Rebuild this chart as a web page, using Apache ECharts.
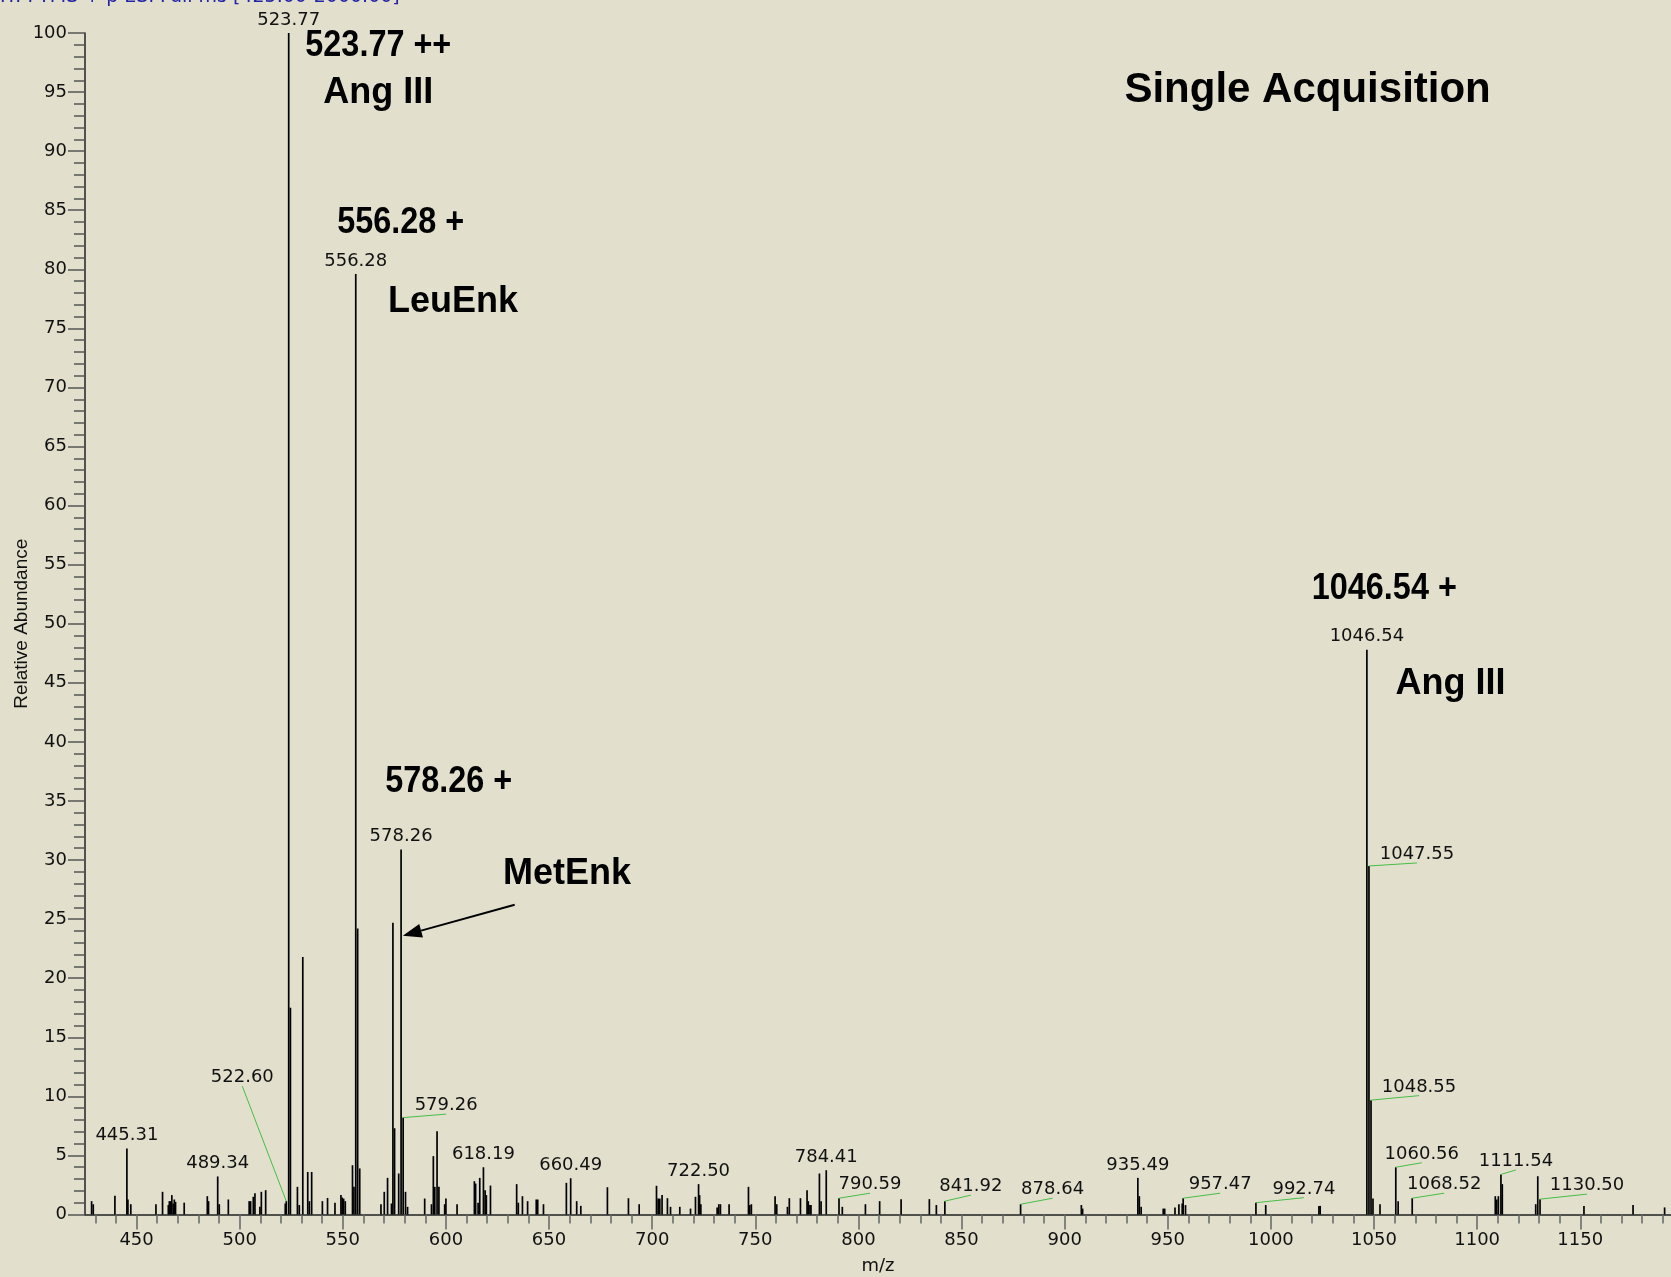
<!DOCTYPE html>
<html>
<head>
<meta charset="utf-8">
<title>Single Acquisition</title>
<script src="https://cdn.jsdelivr.net/npm/echarts@6/dist/echarts.min.js"></script>
<style>
  html, body { margin: 0; padding: 0; background: #e2e0cd; }
  #chart { width: 1671px; height: 1277px; }
</style>
</head>
<body>
<div id="chart"></div>
<script>
// centroid sticks: m/z and relative abundance (%)
const peakMz = [
  428.2, 429.0, 439.5, 445.31, 445.8, 447.2, 459.4, 462.6, 465.4, 465.9,
  466.5, 467.1, 467.8, 468.3, 468.9, 473.1, 484.3, 484.9, 489.34, 490.1,
  494.5, 504.6, 505.3, 506.6, 507.4, 509.8, 510.5, 512.6, 522.1, 522.60,
  523.77, 524.6, 528.0, 528.9, 530.6, 533.0, 533.8, 534.9, 540.1, 542.6,
  546.2, 549.1, 549.7, 550.4, 551.2, 554.7, 555.4, 556.28, 557.2, 558.2,
  568.5, 570.1, 571.7, 573.6, 574.3, 575.1, 577.1, 578.26, 579.26, 580.4,
  581.4, 589.7, 593.0, 593.9, 594.6, 595.7, 596.6, 599.4, 600.0, 605.4,
  613.8, 614.4, 615.6, 616.4, 618.19, 619.0, 619.6, 621.6, 634.3, 635.1,
  637.1, 639.6, 643.8, 644.5, 647.3, 658.4, 660.49, 663.4, 665.4, 678.3,
  688.5, 693.7, 702.1, 702.9, 703.7, 704.8, 707.4, 708.9, 713.4, 718.6,
  721.0, 722.50, 723.0, 723.6, 731.5, 732.3, 733.1, 737.3, 746.7, 747.3,
  748.1, 759.6, 760.4, 765.6, 766.5, 771.9, 775.1, 775.7, 776.5, 777.0,
  781.1, 781.9, 784.41, 790.59, 792.2, 803.4, 810.3, 820.7, 834.4, 837.8,
  841.92, 878.64, 908.1, 908.7, 935.49, 936.2, 937.1, 947.8, 948.5, 953.5,
  955.4, 957.0, 957.47, 958.6, 992.74, 997.5, 1023.3, 1023.9, 1046.54, 1047.55,
  1048.55, 1049.5, 1052.9, 1060.56, 1061.7, 1068.52, 1108.8, 1109.5, 1110.3, 1111.54,
  1112.2, 1128.4, 1129.4, 1130.50, 1151.8, 1175.6, 1190.9
];
const peakAbundance = [
  1.13, 0.87, 1.58, 5.59, 1.27, 0.87, 0.87, 1.92, 0.8, 1.13,
  1.13, 1.64, 0.93, 1.27, 1.07, 1.0, 1.55, 1.13, 3.22, 0.87,
  1.27, 1.13, 1.13, 1.5, 1.8, 0.65, 1.92, 2.06, 0.93, 1.13,
  100, 17.5, 2.34, 0.8, 21.8, 3.6, 1.13, 3.6, 1.13, 1.4,
  1.0, 1.64, 1.44, 1.35, 1.13, 4.17, 2.34, 79.6, 24.2, 3.9,
  0.87, 1.92, 3.1, 0.93, 24.7, 7.3, 3.47, 30.9, 8.2, 1.92,
  0.65, 1.35, 0.87, 4.94, 2.34, 7.05, 2.34, 0.87, 1.35, 0.87,
  2.82, 2.62, 1.0, 3.1, 4.0, 2.06, 1.64, 2.45, 2.57, 1.0,
  1.55, 1.13, 1.27, 1.27, 0.87, 2.68, 3.07, 1.13, 0.73, 2.31,
  1.38, 0.87, 2.43, 1.35, 1.35, 1.64, 1.38, 0.65, 0.65, 0.5,
  1.5, 2.57, 1.64, 0.87, 0.6, 0.87, 0.87, 0.87, 2.34, 0.8,
  0.87, 1.55, 0.87, 0.65, 1.38, 1.38, 2.06, 1.13, 0.8, 0.8,
  3.47, 1.13, 3.75, 1.38, 0.65, 0.87, 1.13, 1.3, 1.3, 0.8,
  1.13, 0.87, 0.8, 0.5, 3.1, 1.55, 0.65, 0.5, 0.5, 0.6,
  0.87, 0.93, 1.38, 0.8, 1.0, 0.8, 0.73, 0.73, 47.8, 29.5,
  9.68, 1.35, 0.87, 4.0, 1.13, 1.38, 1.55, 1.27, 1.55, 3.39,
  2.57, 0.87, 3.24, 1.3, 0.73, 0.8, 0.6
];

// peaks that carry an m/z label
const labeledMz = [
  445.31, 489.34, 522.60, 523.77, 556.28, 578.26, 579.26, 618.19, 660.49, 722.50,
  784.41, 790.59, 841.92, 878.64, 935.49, 957.47, 992.74, 1046.54, 1047.55, 1048.55,
  1060.56, 1068.52, 1111.54, 1130.50
];
// where the label sits relative to the peak top (px); null = straight above, no leader
const labelOffsets = [
  null, null, [-44, -115], null, null, null, [43, -3.5], null, null, null,
  null, [31, -5], [26, -6], [32, -6], null, [37, -5], [48, -5], null, [48, -3], [48, -4.5],
  [26, -4.5], [32, -5], [15, -4.5], [47, -5]
];

const xTickLabels = [450, 500, 550, 600, 650, 700, 750, 800, 850, 900, 950, 1000, 1050, 1100, 1150];
const xMinorTicks = [];
for (let v = 430; v <= 1190; v += 10) xMinorTicks.push(v);

const chart = echarts.init(document.getElementById('chart'));

const smallFont = '18px "DejaVu Sans"';
const boldNum = 'bold 36px "Liberation Sans"';
const boldWord = 'bold 36px "Liberation Sans"';

function renderPeak(params, api) {
  const mz = api.value(0);
  const base = api.coord([mz, 0]);
  const top = api.coord([mz, api.value(1)]);
  return {
    type: 'line',
    shape: { x1: base[0], y1: base[1], x2: top[0], y2: top[1] },
    style: { stroke: '#000', lineWidth: 1.7 }
  };
}

function renderLabel(params, api) {
  const mz = api.value(0);
  const top = api.coord([mz, api.value(1)]);
  const off = labelOffsets[params.dataIndex];
  const text = mz.toFixed(2);
  if (!off) {
    return {
      type: 'text',
      style: { text: text, x: top[0], y: top[1] - 13, align: 'center', verticalAlign: 'middle', font: smallFont, fill: '#111' }
    };
  }
  const ax = top[0] + off[0];
  const ay = top[1] + off[1];
  return {
    type: 'group',
    children: [
      { type: 'line', shape: { x1: top[0], y1: top[1], x2: ax, y2: ay }, style: { stroke: '#47bd47', lineWidth: 1 } },
      { type: 'text', style: { text: text, x: ax, y: ay - 8.5, align: 'center', verticalAlign: 'middle', font: smallFont, fill: '#111' } }
    ]
  };
}

function boldText(text, x, y, font, sx) {
  return {
    type: 'text', x: x, y: y, scaleX: sx || 1,
    style: { text: text, x: 0, y: 0, font: font, fill: '#000', align: 'center', verticalAlign: 'middle', textAlign: 'center', textVerticalAlign: 'middle' }
  };
}

// arrow pointing at the 578.26 peak
const arrowFrom = [514.7, 904.8];
const arrowTip = [402.8, 935.7];
const adx = arrowTip[0] - arrowFrom[0], ady = arrowTip[1] - arrowFrom[1];
const alen = Math.sqrt(adx * adx + ady * ady);
const ux = adx / alen, uy = ady / alen;
const headBase = [arrowTip[0] - ux * 19, arrowTip[1] - uy * 19];

const tickFont = { color: '#111', fontSize: 18, fontFamily: 'DejaVu Sans' };

chart.setOption({
  backgroundColor: '#e2e0cd',
  animation: false,
  grid: { left: 85, right: 0, top: 33, bottom: 62.5, outerBoundsMode: 'none', containLabel: false },
  xAxis: [
    {
      type: 'value', min: 425, max: 1194, position: 'bottom',
      name: 'm/z', nameLocation: 'middle', nameGap: 43, nameMoveOverlap: false,
      nameTextStyle: tickFont,
      axisLine: { show: true, lineStyle: { color: '#222', width: 1.5 } },
      axisTick: { show: true, length: 9, customValues: xMinorTicks, lineStyle: { color: '#666', width: 1.5 } },
      axisLabel: Object.assign({ customValues: xTickLabels, margin: 17, formatter: (v) => String(v) }, tickFont),
      splitLine: { show: false }
    },
    {
      type: 'value', min: 425, max: 1194, position: 'bottom', offset: 0,
      axisLine: { show: false },
      axisTick: { show: true, length: 15, customValues: xTickLabels, lineStyle: { color: '#666', width: 1.5 } },
      axisLabel: { show: false },
      splitLine: { show: false }
    }
  ],
  yAxis: {
    type: 'value', min: 0, max: 100, interval: 5,
    name: 'Relative Abundance', nameLocation: 'middle', nameRotate: 90, nameGap: 54, nameMoveOverlap: false,
    nameTextStyle: { color: '#111', fontSize: 19, fontFamily: 'Liberation Sans' },
    axisLine: { show: true, lineStyle: { color: '#222', width: 1.5 } },
    axisTick: { show: true, length: 17, lineStyle: { color: '#555', width: 1.5 } },
    minorTick: { show: true, splitNumber: 5, length: 11, lineStyle: { color: '#555', width: 1.5 } },
    axisLabel: Object.assign({ margin: 18 }, tickFont),
    splitLine: { show: false },
    minorSplitLine: { show: false }
  },
  series: [
    {
      type: 'custom', name: 'spectrum', xAxisIndex: 0,
      renderItem: renderPeak,
      encode: { x: 0, y: 1 },
      data: peakMz.map((m, i) => [m, peakAbundance[i]]),
      z: 2
    },
    {
      type: 'custom', name: 'labels', xAxisIndex: 0,
      renderItem: renderLabel,
      encode: { x: 0, y: 1 },
      data: labeledMz.map((m) => [m, peakAbundance[peakMz.indexOf(m)]]),
      z: 3
    }
  ],
  graphic: [
    {
      type: 'text', left: 0, top: -12,
      style: { text: 'IT: FTMS + p ESI Full ms [425.00-2000.00]', font: '19px "DejaVu Sans"', fill: '#2323a8' }
    },
    boldText('523.77 ++', 378.3, 45.8, boldNum, 0.9),
    boldText('Ang III', 378.3, 92.7, boldWord),
    boldText('556.28 +', 400.7, 222.7, boldNum, 0.9),
    boldText('LeuEnk', 452.9, 301.6, boldWord),
    boldText('578.26 +', 448.7, 782.2, boldNum, 0.9),
    boldText('MetEnk', 567, 873.9, boldWord),
    boldText('1046.54 +', 1384.3, 589.3, boldNum, 0.9),
    boldText('Ang III', 1450.4, 684.2, boldWord),
    boldText('Single Acquisition', 1307.6, 90.6, 'bold 42px "Liberation Sans"'),
    {
      type: 'line',
      shape: { x1: arrowFrom[0], y1: arrowFrom[1], x2: headBase[0], y2: headBase[1] },
      style: { stroke: '#000', lineWidth: 2 }
    },
    {
      type: 'polygon',
      shape: {
        points: [
          arrowTip,
          [headBase[0] - uy * 7, headBase[1] + ux * 7],
          [headBase[0] + uy * 7, headBase[1] - ux * 7]
        ]
      },
      style: { fill: '#000' }
    }
  ]
});
</script>
</body>
</html>
